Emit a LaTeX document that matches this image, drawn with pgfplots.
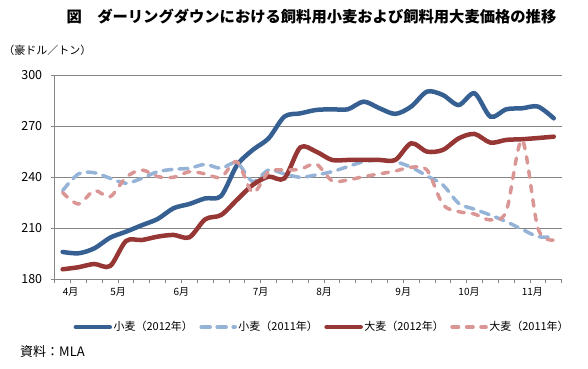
\documentclass[border=0pt]{standalone}
\usepackage{fontspec}
\setmainfont{Noto Sans CJK JP}
\usepackage{pgfplots}
\pgfplotsset{compat=1.18}
\usepackage{pgfplotstable}
\definecolor{wtwelve}{RGB}{55,96,146}
\definecolor{welev}{RGB}{149,179,215}
\definecolor{btwelve}{RGB}{150,55,53}
\definecolor{belev}{RGB}{217,150,148}
\definecolor{gridc}{RGB}{134,134,134}
\pgfplotstableread{
x w12 w11 b12 b11
0.5 196.1 232.2 185.9 231
1.5 195.3 242.0 187.1 224.3
2.5 198.2 242.7 189.0 232.2
3.5 204.5 239.4 187.8 228.6
4.5 208.0 236.5 202.5 240.0
5.5 211.8 239.4 203.1 244.3
6.5 215.5 243.3 205.1 240.4
7.5 221.8 244.7 206.1 240.0
8.5 224.3 245.3 204.7 243.3
9.5 227.6 247.6 215.3 242.0
10.5 229.0 245.3 217.8 240.0
11.5 247.0 248.6 226.7 249.2
12.5 256.1 237.5 235.5 231.0
13.5 262.9 244.3 240.4 243.3
14.5 275.7 242.0 239.4 244.3
15.5 277.6 240.0 257.6 244.7
16.5 279.6 241.4 255.1 247.8
17.5 280.0 243.3 250.2 238.0
18.5 280.0 246.3 250.2 238.4
19.5 284.5 249.2 250.2 240.4
20.5 280.6 250.2 250.2 242.0
21.5 277.3 249.2 250.2 243.7
22.5 281.6 245.9 260.0 245.9
23.5 290.4 240.8 255.1 244.3
24.5 288.4 235.5 256.1 224.0
25.5 282.5 224.7 262.9 219.8
26.5 289.4 221.2 265.5 218.4
27.5 275.7 217.8 260.4 214.9
28.5 280.0 213.9 262.0 220.0
29.5 280.6 209.4 262.4 262.0
30.5 281.6 205.1 263.1 210.0
31.5 274.7 205.1 263.9 203.1
}\data
\begin{document}
\begin{tikzpicture}
\useasboundingbox (-54.7bp,-89.7bp) rectangle (533.3bp,279.3bp);
\begin{axis}[
  at={(0,0)}, anchor=south west,
  scale only axis, width=507bp, height=204bp,
  xmin=0, xmax=32, ymin=180, ymax=300,
  axis x line*=bottom, axis y line*=left,
  axis line style={gridc, line width=0.9bp, -},
  ytick={180,210,240,270,300},
  ymajorgrids, grid style={gridc, line width=0.9bp},
  xtick={0,...,32}, xticklabels={},
  extra x ticks={1,4,8,13,17,22,26.15,30.15},
  extra x tick labels={4月,5月,6月,7月,8月,9月,10月,11月},
  extra x tick style={major tick length=0pt, xticklabel style={font=\fontsize{10bp}{12bp}\selectfont, yshift=-5bp}},
  tick align=outside, major tick length=4bp,
  tick style={gridc, line width=0.9bp},
  yticklabel style={font=\fontsize{12.5bp}{14bp}\selectfont, xshift=-5bp},
  /pgf/number format/assume math mode=true,
  legend style={draw=none, fill=none, at={(0.527,-0.234)}, anchor=center,
    font=\fontsize{11bp}{13bp}\selectfont, inner xsep=0pt,
    nodes={inner xsep=1.5bp},
    /tikz/every even column/.append style={column sep=5bp}},
  legend columns=4,
  legend image code/.code={\draw[#1] (0bp,0bp) -- (34bp,0bp);},
]
\addplot[wtwelve, line width=4.5bp, smooth, line cap=round] table[x=x,y=w12]{\data};
\addlegendentry{小麦（2012年）}
\addplot[welev, line width=3.5bp, smooth, line cap=round, dash pattern=on 9bp off 7bp] table[x=x,y=w11]{\data};
\addlegendentry{小麦（2011年）}
\addplot[btwelve, line width=4.5bp, smooth, line cap=round] table[x=x,y=b12]{\data};
\addlegendentry{大麦（2012年）}
\addplot[belev, line width=3.5bp, smooth, line cap=round, dash pattern=on 6.5bp off 8bp] table[x=x,y=b11]{\data};
\addlegendentry{大麦（2011年）}
\end{axis}
\node[font=\bfseries\fontsize{15.3bp}{17bp}\selectfont] at (256.8bp,262.3bp) {図　ダーリングダウンにおける飼料用小麦および飼料用大麦価格の推移};
\node[font=\fontsize{11bp}{13bp}\selectfont, anchor=west, inner sep=0pt] at (-51.5bp,229bp) {（豪ドル／トン）};
\node[font=\fontsize{13bp}{15bp}\selectfont, anchor=west, inner sep=0pt] at (-34.7bp,-72.7bp) {資料：MLA};
\end{tikzpicture}
\end{document}
